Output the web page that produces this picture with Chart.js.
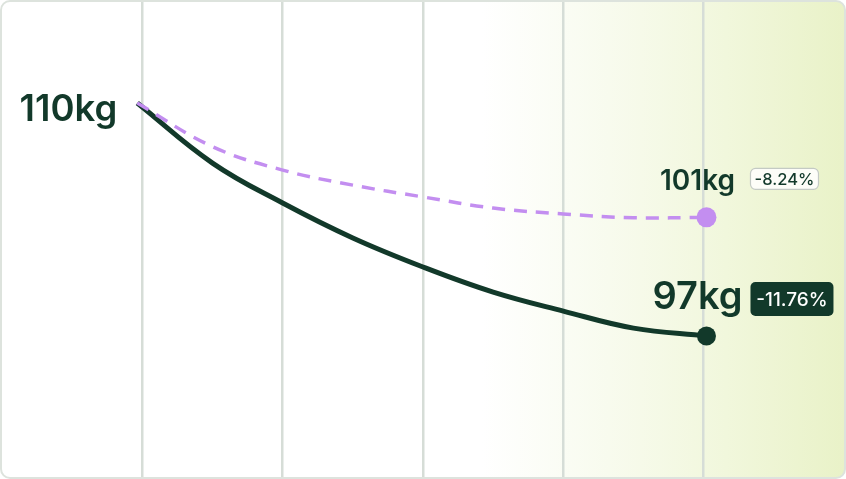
<!DOCTYPE html>
<html>
<head>
<meta charset="utf-8">
<script src="https://cdn.jsdelivr.net/npm/chart.js@4.4.1/dist/chart.umd.min.js"></script>
<style>
  html, body { margin: 0; padding: 0; background: #fff; }
  #box {
    position: relative;
    width: 842px; height: 475px;
    border: 2px solid #dde3dd;
    border-radius: 10px;
    overflow: hidden;
    background: linear-gradient(to right, #ffffff 0%, #ffffff 57%, #f8fbee 72%, #f1f7dc 86%, #e9f2c8 100%);
  }
  canvas { display: block; }
</style>
</head>
<body>
<div id="box"><canvas id="chart" width="842" height="475"></canvas></div>
<script>
// x positions in grid columns (0..6), y values in kg-scale units
const xSteps = [0.964, 1.5, 2, 2.5, 3, 3.5, 4, 4.5, 5.02];
const actual = [110, 106.65, 104.42, 102.47, 100.85, 99.45, 98.39, 97.44, 97];
const projected = [110, 107.57, 106.26, 105.42, 104.76, 104.14, 103.81, 103.6, 103.62];
const startLabel = '110kg';
const endLabels = ['101kg', '97kg'];
const changeLabels = ['-8.24%', '-11.76%'];

const dark = '#12392a';
const purple = '#c38ef0';

const toPoints = vals => vals.map((v, i) => ({ x: xSteps[i], y: v }));
const endOnly = r => xSteps.map((_, i) => i === xSteps.length - 1 ? r : 0);

const labelPlugin = {
  id: 'labels',
  afterDatasetsDraw(chart) {
    const ctx = chart.ctx;
    const xs = chart.scales.x, ys = chart.scales.y;
    ctx.save();
    // start label
    ctx.fillStyle = dark;
    ctx.font = '600 36.5px Inter, sans-serif';
    ctx.textAlign = 'right';
    ctx.textBaseline = 'middle';
    ctx.fillText(startLabel, xs.getPixelForValue(xSteps[0]) - 20, ys.getPixelForValue(actual[0]) + 7);

    const last = xSteps.length - 1;
    const ends = [
      { v: projected[last], size: 28, badgeFont: 16.5, dy: -36, bdy: -38.5, filled: false, bh: 21, bw: 68 },
      { v: actual[last], size: 38, badgeFont: 19, dy: -38, bdy: -37, filled: true, bh: 34, bw: 83 }
    ];
    ends.forEach((e, i) => {
      const px = xs.getPixelForValue(xSteps[last]);
      const py = ys.getPixelForValue(e.v);
      ctx.font = '600 ' + e.size + 'px Inter, sans-serif';
      ctx.fillStyle = dark;
      ctx.textAlign = 'center';
      ctx.textBaseline = 'middle';
      ctx.fillText(endLabels[i], px - 9, py + e.dy);
      // badge
      const bx = px + 44, by = py + e.bdy - e.bh / 2;
      ctx.beginPath();
      ctx.roundRect(bx, by, e.bw, e.bh, 5);
      if (e.filled) {
        ctx.fillStyle = dark;
        ctx.fill();
      } else {
        ctx.fillStyle = '#fdfdf8';
        ctx.fill();
        ctx.strokeStyle = '#c4cac4';
        ctx.lineWidth = 1.2;
        ctx.stroke();
      }
      ctx.font = '500 ' + e.badgeFont + 'px Inter, sans-serif';
      ctx.fillStyle = e.filled ? '#ffffff' : dark;
      ctx.textAlign = 'center';
      ctx.fillText(changeLabels[i], bx + e.bw / 2, py + e.bdy + 1);
    });
    ctx.restore();
  }
};

new Chart(document.getElementById('chart').getContext('2d'), {
  type: 'line',
  data: {
    datasets: [
      {
        label: 'projected',
        data: toPoints(projected),
        borderColor: purple,
        backgroundColor: purple,
        borderWidth: 3.5,
        borderDash: [13, 9],
        pointRadius: endOnly(10),
        pointBackgroundColor: purple,
        pointBorderWidth: 0,
        tension: 0.4,
        clip: false
      },
      {
        label: 'actual',
        data: toPoints(actual),
        borderColor: dark,
        backgroundColor: dark,
        borderWidth: 5,
        pointRadius: endOnly(9.5),
        pointBackgroundColor: dark,
        pointBorderWidth: 0,
        tension: 0.4,
        clip: false
      }
    ]
  },
  options: {
    responsive: false,
    animation: false,
    layout: { padding: 0, autoPadding: false },
    plugins: { legend: { display: false }, tooltip: { enabled: false } },
    scales: {
      x: {
        type: 'linear',
        min: 0, max: 6,
        ticks: { display: false, stepSize: 1 },
        border: { display: false },
        grid: {
          color: c => (c.tick.value > 0 && c.tick.value < 6) ? '#d6ddd7' : 'rgba(0,0,0,0)',
          lineWidth: 2.5,
          drawTicks: false
        }
      },
      y: {
        min: 89.13, max: 115.64,
        display: false
      }
    }
  },
  plugins: [labelPlugin]
});
</script>
</body>
</html>
